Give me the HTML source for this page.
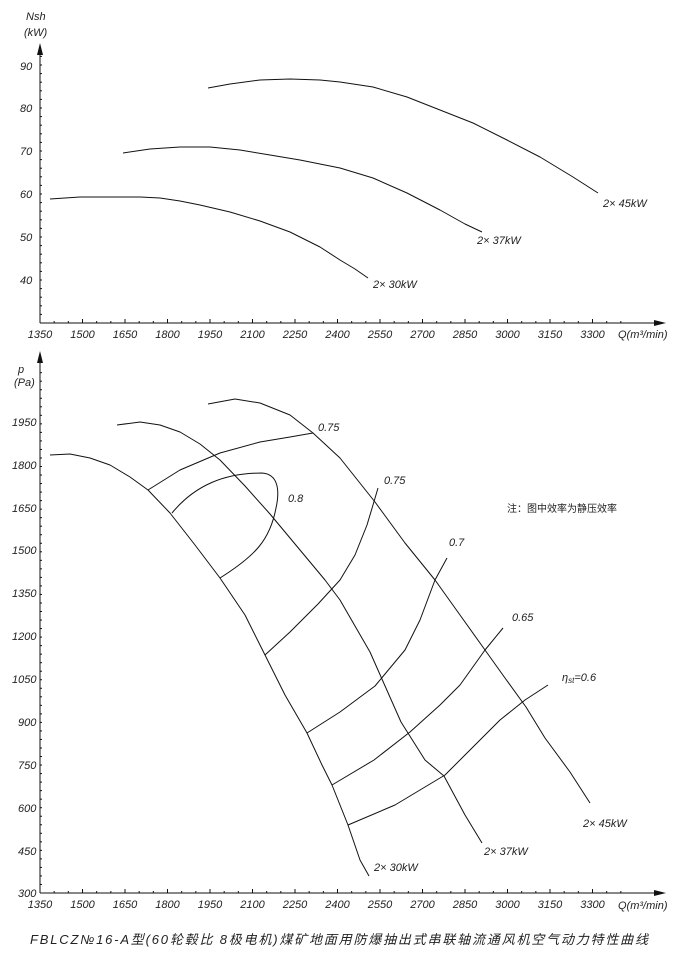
<!DOCTYPE html>
<html><head><meta charset="utf-8"><style>
body{margin:0;background:#fff}
svg{display:block}
text{font-family:"Liberation Sans","Noto Sans CJK SC",sans-serif;font-style:italic;fill:#222}
.t{font-size:11px}
.c{font-style:normal}
</style></head><body>
<svg width="682" height="956" viewBox="0 0 682 956" xmlns="http://www.w3.org/2000/svg">
<g stroke="#111" fill="none" stroke-width="1">
<line x1="40" y1="50" x2="40" y2="323"/>
<line x1="40" y1="323" x2="658" y2="323"/>
<line x1="40" y1="358" x2="40" y2="893"/>
<line x1="40" y1="893" x2="658" y2="893"/>
</g>
<polygon points="40,43 37,55 43,55" fill="#111"/>
<polygon points="666,323 654,320 654,326" fill="#111"/>
<polygon points="40,351 37,363 43,363" fill="#111"/>
<polygon points="666,893 654,890 654,896" fill="#111"/>
<g stroke="#111" stroke-width="1" id="ticks"></g>
<g class="t">
<text x="26" y="20">Nsh</text><text x="24" y="36">(kW)</text>
<text x="20" y="70">90</text><text x="20" y="112">80</text><text x="20" y="155">70</text>
<text x="20" y="198">60</text><text x="20" y="241">50</text><text x="20" y="284">40</text>
<text x="18" y="373">p</text><text x="14" y="386">(Pa)</text>
<text x="12" y="426">1950</text><text x="12" y="469">1800</text><text x="12" y="512">1650</text>
<text x="12" y="554">1500</text><text x="12" y="597">1350</text><text x="12" y="640">1200</text>
<text x="12" y="683">1050</text><text x="18" y="726">900</text><text x="18" y="769">750</text>
<text x="18" y="812">600</text><text x="18" y="855">450</text><text x="18" y="897">300</text>
</g>
<g class="t" text-anchor="middle" id="xl"></g>
<g class="t">
<text x="618" y="338">Q(m³/min)</text>
<text x="618" y="909">Q(m³/min)</text>
<text x="603" y="207">2× 45kW</text>
<text x="477" y="244">2× 37kW</text>
<text x="373" y="288">2× 30kW</text>
<text x="583" y="827">2× 45kW</text>
<text x="484" y="855">2× 37kW</text>
<text x="374" y="871">2× 30kW</text>
<text x="318" y="431">0.75</text>
<text x="384" y="484">0.75</text>
<text x="288" y="502">0.8</text>
<text x="449" y="546">0.7</text>
<text x="512" y="621">0.65</text>
<text x="562" y="681">η<tspan font-size="8" dy="2">st</tspan><tspan dy="-2">=0.6</tspan></text>
<text x="507" y="512" class="c" font-size="10">注：图中效率为静压效率</text>
<text x="30" y="944" font-size="13" textLength="618" lengthAdjust="spacing">FBLCZ№16-A型(60轮毂比 8极电机)煤矿地面用防爆抽出式串联轴流通风机空气动力特性曲线</text>
</g>
<g stroke="#111" fill="none" stroke-width="1" stroke-linejoin="round">
<polyline points="208,88 230,84 260,80 290,79 320,80 340,82 373,87 407,97 440,110 473,123 507,140 540,157 573,177 598,193"/>
<polyline points="123,153 150,149 180,147 210,147 240,150 270,155 300,160 340,168 373,178 407,193 440,210 465,224 482,232"/>
<polyline points="50,199 80,197 110,197 140,197 160,198 180,201 200,205 230,212 260,221 290,232 320,247 340,260 355,269 368,278"/>
<polyline points="50,455 70,454 90,458 110,465 130,477 148,490 170,513 195,545 220,578 245,615 265,655 285,695 307,733 322,765 332,785 348,825 360,860 369,876"/>
<polyline points="117,425 140,422 160,425 180,432 200,444 220,460 245,486 270,514 300,550 325,580 340,600 370,652 401,722 425,760 444,776 465,815 482,843"/>
<polyline points="208,404 235,399 260,403 290,415 313,433 340,458 375,502 405,543 435,580 460,615 485,650 505,678 526,707 545,738 570,772 590,803"/>
<polyline points="148,490 180,470 220,453 260,442 290,437 313,433"/>
<path d="M172,513 C195,485 225,473 262,473 C278,474 280,490 276,508 C270,540 255,556 220,578"/>
<polyline points="265,655 290,632 318,604 340,580 355,555 367,525 373,505 378,488"/>
<polyline points="307,733 340,712 375,686 405,650 420,620 435,580 447,558"/>
<polyline points="332,785 374,760 410,732 440,705 460,685 485,650 503,628"/>
<polyline points="348,825 395,805 445,775 475,745 500,720 525,700 548,685"/>
</g>
<script>
var ns="http://www.w3.org/2000/svg",t=document.getElementById("ticks"),xl=document.getElementById("xl");
function L(a,b,c,d){var l=document.createElementNS(ns,"line");l.setAttribute("x1",a);l.setAttribute("y1",b);l.setAttribute("x2",c);l.setAttribute("y2",d);t.appendChild(l);}
for(var i=0;i<=14;i++){var x=40+i*42.5;for(var k=0;k<3;k++){var xx=x+k*14.17;if(xx>630)break;var h=k?2:4;L(xx,323-h,xx,323);L(xx,893-h,xx,893);}
if(i<14){var q=1350+150*i;[338,908].forEach(function(y){var s=document.createElementNS(ns,"text");s.setAttribute("x",x);s.setAttribute("y",y);s.textContent=q;xl.appendChild(s);});}}
for(var y=323;y>55;y-=8.6){L(40,y,42,y);}
for(var y=893;y>365;y-=8.53){L(40,y,42,y);}
</script>
</svg>
</body></html>
